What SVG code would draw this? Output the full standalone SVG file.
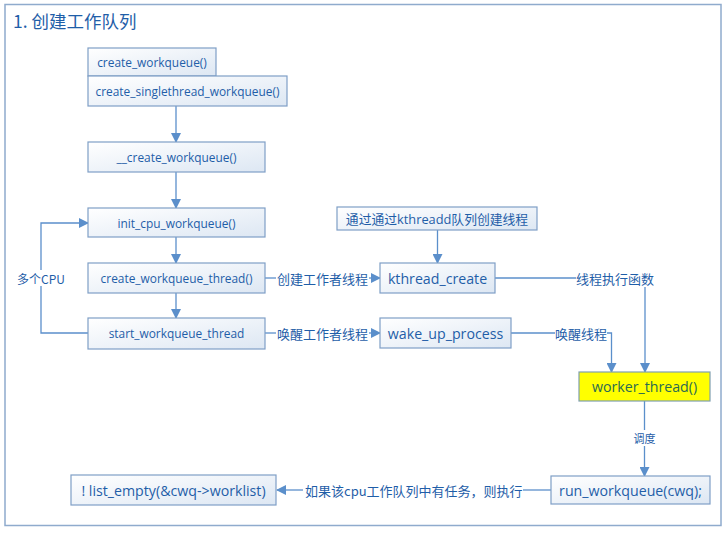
<svg xmlns="http://www.w3.org/2000/svg" width="727" height="533" viewBox="0 0 727 533">
<defs>
<linearGradient id="g" x1="0" y1="0" x2="1" y2="1">
<stop offset="0" stop-color="#ffffff"/>
<stop offset="1" stop-color="#dde7f3"/>
</linearGradient>
<marker id="arr" markerWidth="10" markerHeight="10" refX="9" refY="5" orient="auto" markerUnits="userSpaceOnUse">
<path d="M0,0 L10,5 L0,10 Z" fill="#5b8fcb"/>
</marker>
<style>
.box{fill:url(#g);stroke:#7f9fc6;stroke-width:1.2}
.t{font-family:"Open Sans","Noto Sans","Noto Sans CJK SC",sans-serif;fill:#1f5ea8;text-anchor:middle;dominant-baseline:central}
.s{font-size:11.9px}
.m{font-size:14.2px}
.lb{font-family:"Noto Sans CJK SC","Noto Sans",sans-serif;fill:#1f5ea8;font-size:13px;dominant-baseline:central}
.ln{fill:none;stroke:#5b8fcb;stroke-width:1.3}
.a{marker-end:url(#arr)}
</style>
</defs>
<rect x="0" y="0" width="727" height="533" fill="#ffffff"/>
<rect x="5" y="4.5" width="716" height="521" fill="none" stroke="#8fabcd" stroke-width="1.5"/>
<text x="13" y="20" font-family="'Noto Sans CJK SC','Noto Sans',sans-serif" font-size="17.5" fill="#1f5ea8" dominant-baseline="central">1. 创建工作队列</text>

<g id="connectors">
<path class="ln a" d="M176,106 V142"/>
<path class="ln a" d="M176,172 V208"/>
<path class="ln a" d="M176,237 V263"/>
<path class="ln a" d="M176,293 V318"/>
<path class="ln" d="M88,333 H41 V286"/>
<path class="ln a" d="M41,270 V223 H88"/>
<text class="lb" x="17" y="278" font-size="12" style="font-size:12px">多个CPU</text>
<path class="ln" d="M265,278 H276"/>
<text class="lb" x="277" y="278">创建工作者线程</text>
<path class="ln a" d="M369,278 H380"/>
<path class="ln" d="M265,333 H276"/>
<text class="lb" x="277" y="333">唤醒工作者线程</text>
<path class="ln a" d="M369,333 H380"/>
<path class="ln a" d="M437.5,230 V263"/>
<path class="ln" d="M495,278 H576"/>
<text class="lb" x="576" y="278">线程执行函数</text>
<path class="ln a" d="M645,287 V372"/>
<path class="ln" d="M511,333 H555"/>
<text class="lb" x="555" y="333">唤醒线程</text>
<path class="ln a" d="M607,333 H611.5 V372"/>
<path class="ln" d="M644.5,401 V430"/>
<text class="lb" x="644.5" y="438" text-anchor="middle" style="font-size:11px">调度</text>
<path class="ln a" d="M644.5,446 V476"/>
<path class="ln" d="M551,490 H523"/>
<text class="lb" x="305" y="490">如果该cpu工作队列中有任务，则执行</text>
<path class="ln a" d="M303,490 H277"/>
</g>

<g id="create_workqueue"><rect class="box" x="88" y="48" width="128" height="28"/><text class="t s" x="152" y="62">create_workqueue()</text></g>
<g id="create_singlethread_workqueue"><rect class="box" x="88" y="76" width="199" height="30"/><text class="t s" x="187.5" y="91">create_singlethread_workqueue()</text></g>
<g id="__create_workqueue"><rect class="box" x="88" y="142" width="177" height="30"/><text class="t s" x="176.5" y="157">__create_workqueue()</text></g>
<g id="init_cpu_workqueue"><rect class="box" x="88" y="208" width="177" height="29"/><text class="t s" x="176.5" y="222.5">init_cpu_workqueue()</text></g>
<g id="create_workqueue_thread"><rect class="box" x="88" y="263" width="177" height="30"/><text class="t s" x="176.5" y="278">create_workqueue_thread()</text></g>
<g id="start_workqueue_thread"><rect class="box" x="88" y="318" width="177" height="31"/><text class="t s" x="176.5" y="333">start_workqueue_thread</text></g>
<g id="kthreadd"><rect class="box" x="337" y="207" width="200" height="23"/><text class="t" x="437" y="218.5" font-size="12.8" font-family="'Noto Sans CJK SC','Open Sans',sans-serif">通过通过kthreadd队列创建线程</text></g>
<g id="kthread_create"><rect class="box" x="380" y="263" width="115" height="30"/><text class="t m" x="437.5" y="278">kthread_create</text></g>
<g id="wake_up_process"><rect class="box" x="380" y="318" width="131" height="30"/><text class="t m" x="445.5" y="333">wake_up_process</text></g>
<g id="worker_thread"><rect x="579" y="372" width="131" height="29" fill="#ffff00" stroke="#7f9fb0" stroke-width="1.2"/><text class="t m" x="644.5" y="386.5" style="fill:#2a6a52">worker_thread()</text></g>
<g id="run_workqueue"><rect class="box" x="551" y="476" width="159" height="28"/><text class="t m" x="630.5" y="490">run_workqueue(cwq);</text></g>
<g id="list_empty"><rect class="box" x="71" y="475" width="205" height="30"/><text class="t m" x="173.5" y="490">! list_empty(&amp;cwq-&gt;worklist)</text></g>
</svg>
